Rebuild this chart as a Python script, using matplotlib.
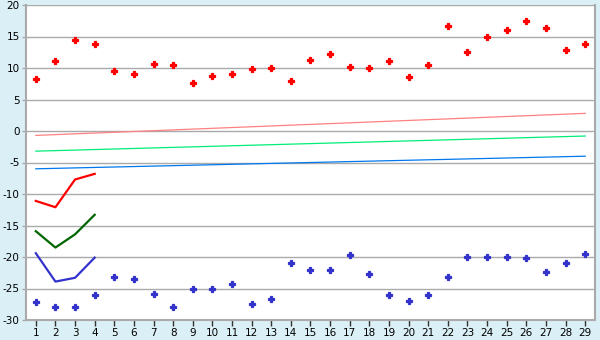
import matplotlib
matplotlib.use("Agg")
import matplotlib.pyplot as plt

plt.rcParams["axes.unicode_minus"] = False

days = list(range(1, 30))
upper_pts = [8.3, 11.1, 14.5, 13.8, 9.6, 9.0, 10.6, 10.4, 7.6, 8.8,
             9.0, 9.8, 10.0, 8.0, 11.2, 12.2, 10.2, 10.0, 11.1, 8.5,
             10.4, 16.6, 12.5, 14.9, 16.1, 17.4, 16.3, 12.8, 13.8]
lower_pts = [-27.2, -27.9, -27.9, -26.1, -23.2, -23.5, -25.9, -28.0, -25.0, -25.0,
             -24.3, -27.5, -26.6, -21.0, -22.0, -22.0, -19.7, -22.7, -26.1, -27.0,
             -26.1, -23.2, -20.0, -20.0, -20.0, -20.2, -22.4, -21.0, -19.6]

# straight trend lines, start and end values only
trend_x = [1, 29]
trend_red = [-0.7, 2.8]
trend_green = [-3.2, -0.8]
trend_blue = [-6.0, -4.0]

# short thick series over the first four days
short_x = [1, 2, 3, 4]
short_red = [-11.1, -12.1, -7.7, -6.8]
short_green = [-15.9, -18.5, -16.4, -13.3]
short_blue = [-19.4, -23.9, -23.3, -20.1]

yticks = list(range(-30, 25, 5))

BG = "#daeff6"
GRID = "#aaaaaa"

fig = plt.figure(figsize=(6, 3.4), dpi=100, facecolor=BG)
ax = fig.add_axes([26 / 600, 20 / 340, 569 / 600, 315 / 340])
ax.set_facecolor("white")

ax.plot(trend_x, trend_red, color="#ff8080", lw=0.9)
ax.plot(trend_x, trend_green, color="#00ee77", lw=0.9)
ax.plot(trend_x, trend_blue, color="#0077ee", lw=0.9)

ax.plot(short_x, short_red, color="#ff0000", lw=1.6)
ax.plot(short_x, short_green, color="#006600", lw=1.6)
ax.plot(short_x, short_blue, color="#3333cc", lw=1.6)

ax.plot(days, upper_pts, ls="none", marker="P", ms=4.5, color="#ff0000", mew=0.9)
ax.plot(days, lower_pts, ls="none", marker="P", ms=4.5, color="#3333cc", mew=0.9)

ax.set_xlim(0.5, 29.5)
ax.set_ylim(-30, 20)
ax.set_xticks(days)
ax.set_yticks(yticks)
ax.grid(axis="y", color=GRID, lw=1.0)
ax.set_axisbelow(True)
for s in ax.spines.values():
    s.set_color(GRID)
    s.set_linewidth(1.5)
ax.spines["top"].set_visible(False)
ax.tick_params(colors="black", labelsize=7.5, length=4, width=1, pad=2)
ax.tick_params(axis="x", color="#333333")
ax.tick_params(axis="y", color=GRID, length=3, pad=1.5)

fig.savefig("out.png", dpi=100, facecolor=BG)
